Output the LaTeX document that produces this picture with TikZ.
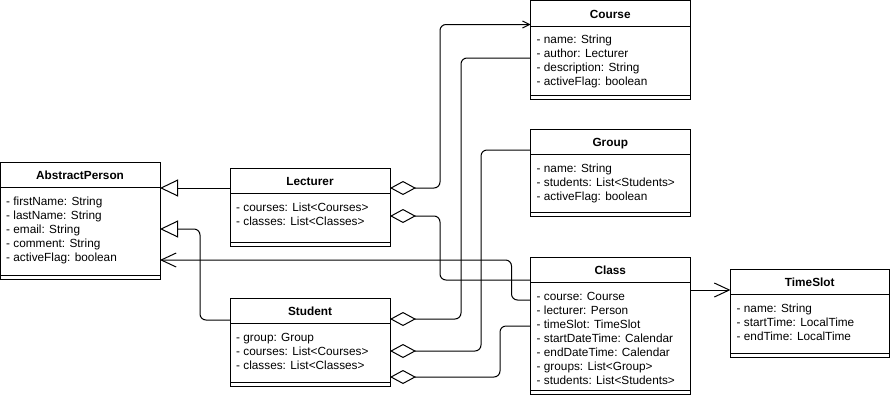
\documentclass[tikz,border=0pt]{standalone}
\usepackage{fontspec}
\setmainfont{Liberation Sans}
\usetikzlibrary{arrows.meta}
\tikzset{
  box/.style={draw, line width=1pt, rectangle, anchor=north west, inner sep=0pt, outer sep=0pt},
  sepline/.style={line width=1pt},
  hdr/.style={anchor=base, font=\bfseries\fontsize{11.8}{14}\selectfont, inner sep=0pt},
  attr/.style={anchor=base west, font=\fontsize{11.8}{14}\selectfont, inner sep=0pt},
  conn/.style={line width=1pt, rounded corners=6pt},
  gen/.style={-{Triangle[open,length=18pt,width=17pt,fill=white]}},
  dep/.style={-{Straight Barb[length=15pt,width=14pt]}},
  aggnav/.style={{Diamond[open,length=26pt,width=14pt,fill=white]}-{Straight Barb[length=7pt,width=7pt]}},
  agg/.style={{Diamond[open,length=26pt,width=14pt,fill=white]}-}
}
\newcommand\classbox[7]{%
  \node[box, minimum width=#4pt, minimum height=#5pt] (#1) at (#2,#3) {};
  \draw[sepline] (#2,#3+25.5) -- ++(#4,0);
  \draw[sepline] (#2,#3+#5-4) -- ++(#4,0);
  \node[hdr] (#1-title) at (#2+#4/2,#3+17.5) {#6};
  \foreach \t [count=\i] in {#7} {\node[attr] (#1-a\i) at (#2+6,#3+25.5+17.5+14*\i-14) {\t};}
}
\begin{document}
\begin{tikzpicture}[x=1pt,y=-1pt]
\useasboundingbox (0,0) rectangle (891,405);

\classbox{ap}{0}{162}{160}{117}{AbstractPerson}{- firstName: String,- lastName: String,- email: String,- comment: String,- activeFlag: boolean}
\classbox{lect}{230}{168}{160}{78}{Lecturer}{- courses: List<Courses>,- classes: List<Classes>}
\classbox{stud}{230}{298}{160}{88}{Student}{- group: Group,- courses: List<Courses>,- classes: List<Classes>}
\classbox{course}{530.5}{0.5}{159.5}{98.5}{Course}{- name: String,- author: Lecturer,- description: String,- activeFlag: boolean}
\classbox{grp}{530.5}{129}{159.5}{87}{Group}{- name: String,- students: List<Students>,- activeFlag: boolean}
\classbox{cls}{530.5}{257}{159.5}{137}{Class}{- course: Course,- lecturer: Person,- timeSlot: TimeSlot,- startDateTime: Calendar,- endDateTime: Calendar,- groups: List<Group>,- students: List<Students>}
\classbox{ts}{730.5}{269}{158.5}{88}{TimeSlot}{- name: String,- startTime: LocalTime,- endTime: LocalTime}

% generalizations
\draw[conn, gen] ([yshift=-20pt]lect.north west) -- ([yshift=-26pt]ap.north east);
\draw[conn, gen] ([yshift=-22pt]stud.north west) -- ++(-30,0) |- ([yshift=-67pt]ap.north east);
% Class -> AbstractPerson
\draw[conn, dep] ([yshift=-43pt]cls.north west) -- ++(-19,0) |- ([yshift=-98pt]ap.north east);
% Lecturer aggregations
\draw[conn, aggnav] ([yshift=-20pt]lect.north east) -- ++(50,0) |- ([yshift=-24pt]course.north west);
\draw[conn, agg] ([yshift=-48pt]lect.north east) -- ++(50,0) |- ([yshift=-23pt]cls.north west);
% Student aggregations
\draw[conn, agg] ([yshift=-21pt]stud.north east) -- ++(71,0) |- ([yshift=-57.5pt]course.north west);
\draw[conn, agg] ([yshift=-53pt]stud.north east) -- ++(91,0) |- ([yshift=-21pt]grp.north west);
\draw[conn, agg] ([yshift=-79pt]stud.north east) -- ++(110,0) |- ([yshift=-69pt]cls.north west);
% Class -> TimeSlot
\draw[conn, dep] ([yshift=-33pt]cls.north east) -- ([yshift=-21pt]ts.north west);
\end{tikzpicture}
\end{document}
